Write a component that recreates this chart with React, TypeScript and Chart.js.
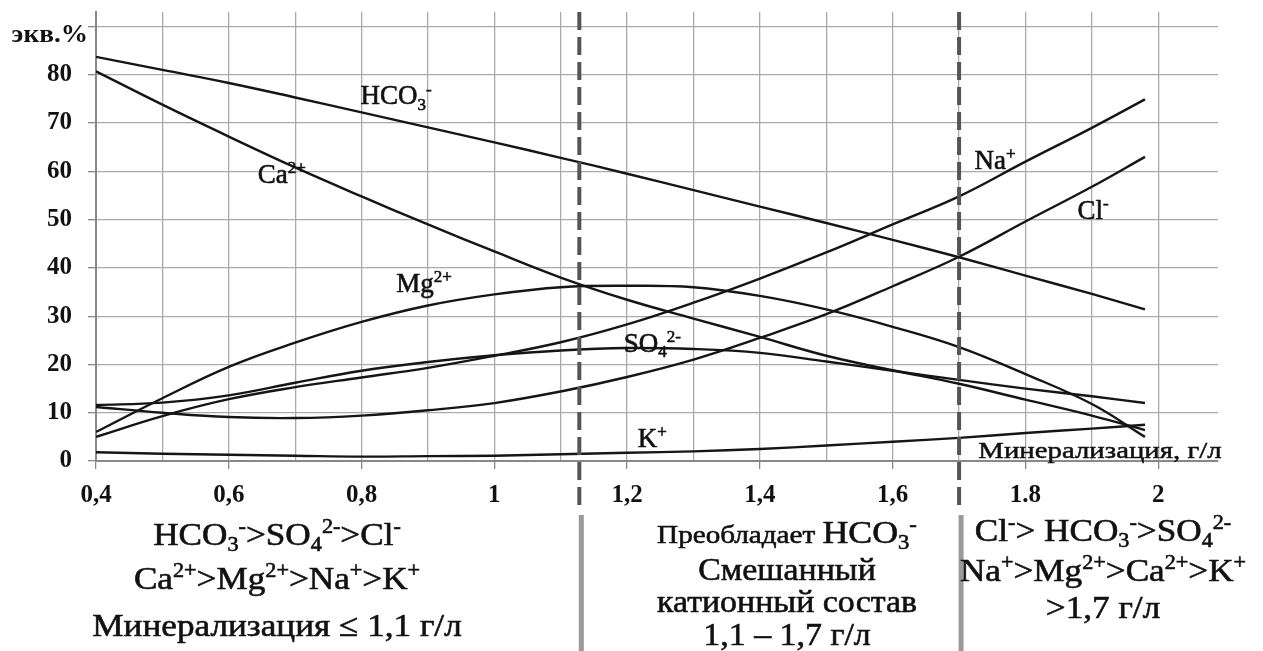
import React, { useEffect, useRef } from 'react';
import { Chart, registerables } from 'chart.js';

Chart.register(...registerables);

// ---------- data ----------
const xValues = [0.4, 0.5, 0.6, 0.7, 0.8, 0.9, 1.0, 1.1, 1.2, 1.3, 1.4, 1.5, 1.6, 1.7, 1.8, 1.9, 1.98];
const hco3 = [83.7, 81.0, 78.3, 75.3, 72.2, 69.1, 66.0, 62.8, 59.5, 56.1, 52.7, 49.3, 45.8, 42.2, 38.4, 34.6, 31.4];
const ca = [80.7, 73.8, 67.2, 60.8, 54.8, 49.0, 43.4, 38.0, 33.4, 29.5, 25.7, 21.8, 18.8, 16.0, 12.7, 9.4, 6.4];
const mg = [6.0, 13.0, 19.5, 24.5, 28.8, 32.2, 34.5, 36.0, 36.3, 36.0, 34.2, 31.4, 27.8, 23.6, 18.0, 11.8, 5.0];
const na = [5.0, 9.3, 12.8, 15.3, 17.3, 19.3, 21.8, 24.6, 28.3, 32.8, 37.8, 43.2, 49.0, 54.8, 62.0, 69.0, 74.9];
const so4 = [11.6, 12.1, 13.6, 16.2, 18.7, 20.5, 21.9, 22.9, 23.4, 23.2, 22.4, 20.6, 18.7, 16.8, 15.0, 13.4, 12.0];
const cl = [11.2, 10.0, 9.1, 8.9, 9.4, 10.5, 12.0, 14.4, 17.4, 21.0, 25.5, 30.4, 36.2, 42.3, 49.6, 56.8, 63.0];
const k = [1.8, 1.5, 1.3, 1.1, 0.9, 1.0, 1.1, 1.4, 1.7, 2.0, 2.5, 3.2, 4.0, 4.8, 5.8, 6.7, 7.5];

const xTickValues = [0.4, 0.5, 0.6, 0.7, 0.8, 0.9, 1.0, 1.1, 1.2, 1.3, 1.4, 1.5, 1.6, 1.7, 1.8, 1.9, 2.0];
const xTickLabels = ['0,4', '', '0,6', '', '0,8', '', '1', '', '1,2', '', '1,4', '', '1,6', '', '1.8', '', '2'];
const yTickValues = [0, 10, 20, 30, 40, 50, 60, 70, 80, 90];
const yTickLabels = ['0', '10', '20', '30', '40', '50', '60', '70', '80', ''];
const yAxisTitle = 'экв.%';
const xAxisTitle = 'Минерализация, г/л';
const dividerValues = [1.128, 1.7];

const curveLabelTexts = ['HCO_{3}^{-}', 'Ca^{2+}', 'Mg^{2+}', 'SO_{4}^{2-}', 'K^{+}', 'Na^{+}', 'Cl^{-}'];
const curveLabelX = [0.852, 0.68, 0.894, 1.238, 1.238, 1.754, 1.902];
const curveLabelY = [75.7, 59.5, 36.9, 24.5, 4.8, 62.4, 52.0];

const leftBlock = ['HCO_{3}^{-}>SO_{4}^{2-}>Cl^{-}', 'Ca^{2+}>Mg^{2+}>Na^{+}>K^{+}', 'Минерализация ≤ 1,1 г/л'];
const middleBlockLead = 'Преобладает ';
const middleBlock = ['HCO_{3}^{-}', 'Смешанный', 'катионный состав', '1,1 – 1,7 г/л'];
const rightBlock = ['Cl^{-}> HCO_{3}^{-}>SO_{4}^{2-}', 'Na^{+}>Mg^{2+}>Ca^{2+}>K^{+}', '>1,7 г/л'];

const series = [hco3, ca, mg, na, so4, cl, k];
const seriesNames = ['HCO3-', 'Ca2+', 'Mg2+', 'Na+', 'SO42-', 'Cl-', 'K+'];

// ---------- rich text ----------
const FAMILY = '"Liberation Serif", "Times New Roman", serif';
type Seg = { t: string; k: 0 | 1 | 2 };
function parseRich(s: string): Seg[] {
  const out: Seg[] = [];
  let buf = '';
  let i = 0;
  while (i < s.length) {
    const c = s[i];
    if ((c === '_' || c === '^') && s[i + 1] === '{') {
      if (buf) { out.push({ t: buf, k: 0 }); buf = ''; }
      const end = s.indexOf('}', i);
      out.push({ t: s.slice(i + 2, end), k: c === '_' ? 1 : 2 });
      i = end + 1;
    } else { buf += c; i++; }
  }
  if (buf) out.push({ t: buf, k: 0 });
  return out;
}
type Piece = { text: string; size: number };
function drawRichLine(ctx: CanvasRenderingContext2D, pieces: Piece[], x: number, y: number,
  align: 'left' | 'center' | 'right', weight = 'normal', sx = 1, embolden = 0.6) {
  const items: { t: string; font: string; dy: number; w: number }[] = [];
  let total = 0;
  for (const p of pieces) {
    for (const seg of parseRich(p.text)) {
      const sz = seg.k ? p.size * 0.63 : p.size;
      const font = `${weight} ${sz}px ${FAMILY}`;
      ctx.font = font;
      const w = ctx.measureText(seg.t).width;
      const dy = seg.k === 1 ? p.size * 0.2 : seg.k === 2 ? -p.size * 0.36 : 0;
      items.push({ t: seg.t, font, dy, w });
      total += w;
    }
  }
  const base = Math.max(...pieces.map(p => p.size));
  ctx.save();
  ctx.translate(x, y);
  ctx.scale(sx, 1);
  let cx = align === 'center' ? -total / 2 : align === 'right' ? -total : 0;
  ctx.textAlign = 'left';
  ctx.textBaseline = 'alphabetic';
  ctx.fillStyle = '#111';
  ctx.strokeStyle = '#111';
  ctx.lineWidth = embolden;
  for (const it of items) {
    ctx.font = it.font;
    ctx.fillText(it.t, cx, base * 0.33 + it.dy);
    if (embolden > 0) ctx.strokeText(it.t, cx, base * 0.33 + it.dy);
    cx += it.w;
  }
  ctx.restore();
}

const overlayPlugin = {
  id: 'overlay',
  afterDatasetsDraw(chart: any) {
    const { ctx, chartArea } = chart;
    const xs = chart.scales.x;
    const ys = chart.scales.y;
    // dashed dividers
    ctx.save();
    ctx.strokeStyle = '#555';
    ctx.lineWidth = 4;
    ctx.setLineDash([18, 7]);
    for (const v of dividerValues) {
      const px = xs.getPixelForValue(v);
      ctx.beginPath();
      ctx.moveTo(px, chartArea.top);
      ctx.lineTo(px, chartArea.bottom + 44);
      ctx.stroke();
    }
    ctx.restore();
    // grey separators below
    ctx.save();
    ctx.strokeStyle = '#9a9a9a';
    ctx.lineWidth = 5;
    for (const v of dividerValues) {
      const px = xs.getPixelForValue(v) + 2;
      ctx.beginPath();
      ctx.moveTo(px, chartArea.bottom + 54);
      ctx.lineTo(px, chart.height);
      ctx.stroke();
    }
    ctx.restore();
    // curve labels
    curveLabelTexts.forEach((t, i) => {
      drawRichLine(ctx, [{ text: t, size: 27 }], xs.getPixelForValue(curveLabelX[i]), ys.getPixelForValue(curveLabelY[i]), 'center');
    });
    drawRichLine(ctx, [{ text: xAxisTitle, size: 24 }], xs.getPixelForValue(1.729), ys.getPixelForValue(2.3), 'left', 'normal', 1.2, 0.5);
    drawRichLine(ctx, [{ text: yAxisTitle, size: 26 }], chartArea.left - 8, chartArea.top + 21, 'right', 'bold', 1.05, 0);
    // bottom blocks
    const lY = [534, 578, 625];
    leftBlock.forEach((t, i) => drawRichLine(ctx, [{ text: t, size: 32 }], 277, lY[i], 'center', 'normal', 1.1));
    const mY = [532, 569, 601, 634];
    middleBlock.forEach((t, i) => {
      const pieces = i === 0 ? [{ text: middleBlockLead, size: 26 }, { text: t, size: 32 }] : [{ text: t, size: 32 }];
      drawRichLine(ctx, pieces, 787, mY[i], 'center', 'normal', i === 0 ? 1.12 : 1.06);
    });
    const rY = [530, 570, 607];
    rightBlock.forEach((t, i) => drawRichLine(ctx, [{ text: t, size: 32 }], 1103, rY[i], 'center', 'normal', 1.1));
  },
};

export default function App() {
  const ref = useRef<HTMLCanvasElement | null>(null);
  useEffect(() => {
    if (!ref.current) return;
    const chart = new Chart(ref.current, {
      type: 'line',
      data: {
        datasets: series.map((s, i) => ({
          label: seriesNames[i],
          data: xValues.map((x, j) => ({ x, y: s[j] })),
          borderColor: '#151515',
          borderWidth: 2.4,
          pointRadius: 0,
          fill: false,
          tension: 0.4,
        })),
      },
      options: {
        responsive: false,
        animation: false,
        layout: { padding: { top: 12, right: 45, left: 0, bottom: 0 } },
        plugins: { legend: { display: false }, tooltip: { enabled: false } },
        scales: {
          x: {
            type: 'linear',
            min: 0.4,
            max: 2.09,
            afterBuildTicks: (scale: any) => { scale.ticks = xTickValues.map(v => ({ value: v })); },
            afterFit: (scale: any) => { scale.height = 190; scale.paddingLeft = 0; scale.paddingRight = 0; },
            grid: {
              color: '#aaaaaa',
              lineWidth: 1.3,
              tickLength: 8,
              tickColor: (c: any) => (xTickLabels[c.index] ? '#888' : 'rgba(0,0,0,0)'),
            },
            border: { color: '#888', width: 2 },
            ticks: {
              autoSkip: false,
              maxRotation: 0,
              padding: 12,
              color: '#111',
              font: { family: FAMILY, size: 25, weight: 'bold' },
              callback: (_v: any, i: number) => xTickLabels[i],
            },
          },
          y: {
            min: 0,
            max: 93,
            afterBuildTicks: (scale: any) => { scale.ticks = yTickValues.map(v => ({ value: v })); },
            afterFit: (scale: any) => { scale.width = 96; scale.paddingTop = 0; scale.paddingBottom = 0; },
            grid: { color: '#aaaaaa', lineWidth: 1.3, tickLength: 8, tickColor: '#888' },
            border: { color: '#888', width: 2 },
            ticks: {
              padding: 16,
              color: '#111',
              font: { family: FAMILY, size: 25, weight: 'bold' },
              callback: (_v: any, i: number) => yTickLabels[i],
            },
          },
        },
      },
      plugins: [overlayPlugin],
    } as any);
    return () => chart.destroy();
  }, []);
  return (
    <div style={{ position: 'fixed', left: 0, top: 0, width: 1263, height: 651, background: '#fff' }}>
      <canvas ref={ref} width={1263} height={651} style={{ display: 'block' }} />
    </div>
  );
}
